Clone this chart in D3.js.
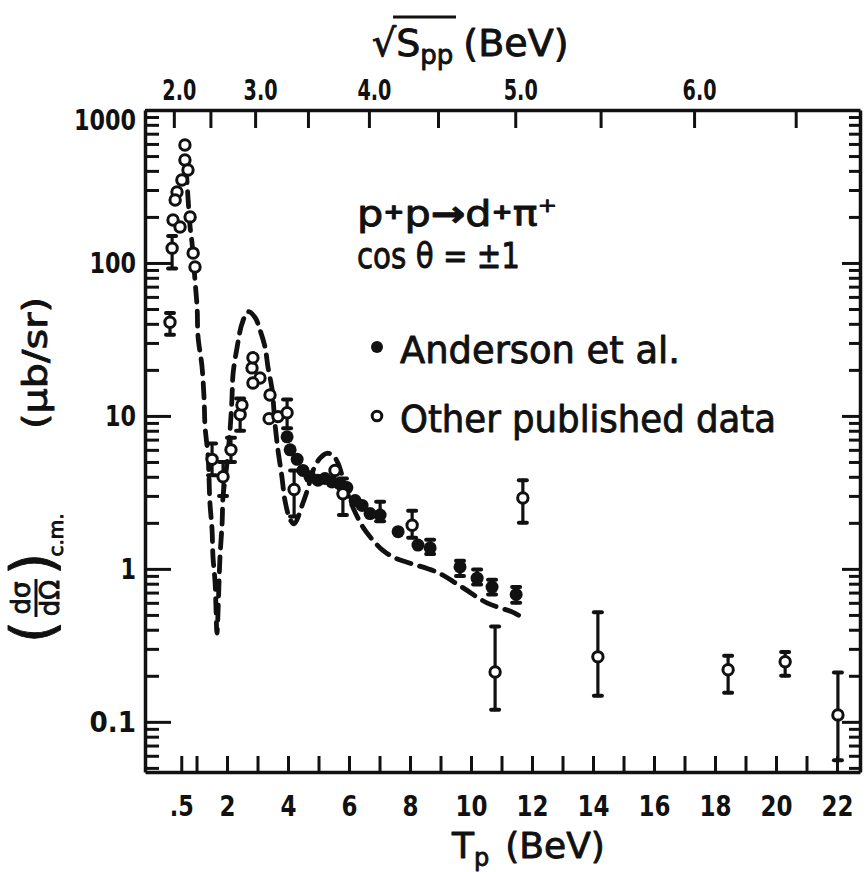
<!DOCTYPE html>
<html>
<head>
<meta charset="utf-8">
<script src="https://cdn.jsdelivr.net/npm/d3@7"></script>
<style>
  body { margin: 0; background: #fff; }
  svg { display: block; }
</style>
</head>
<body>
<svg id="chart" width="868" height="872"></svg>
<script>
// ---------------- data ----------------
// Anderson et al. (filled points): beam kinetic energy T_p (BeV) and dσ/dΩ (μb/sr)
const andersonT = [3.97, 4.07, 4.30, 4.49, 4.72, 4.98, 5.21, 5.44, 5.70, 5.93, 6.20, 6.43, 6.69, 7.02, 7.61, 8.26, 8.66, 9.64, 10.20, 10.69, 11.48];
const andersonV = [7.3, 6.0, 5.2, 4.4, 4.0, 3.8, 3.9, 3.7, 3.6, 3.4, 2.8, 2.6, 2.3, 2.25, 1.75, 1.43, 1.37, 1.03, 0.87, 0.76, 0.68];
const andersonLo = [null, null, null, null, null, null, null, null, null, null, null, null, null, 2.05, null, null, 1.25, 0.90, 0.79, 0.68, 0.60];
const andersonHi = [null, null, null, null, null, null, null, null, null, null, null, null, null, 2.75, null, null, 1.55, 1.13, 0.99, 0.85, 0.76];

// Other published data (open points)
const otherT = [0.62, 0.62, 0.72, 0.52, 0.36, 0.30, 0.79, 0.23, 0.46, 0.20, 0.89, 0.95, 0.13,
                1.51, 1.87, 2.13, 2.43, 2.49, 2.82, 2.85, 3.08, 2.85, 3.41, 3.38, 3.67, 3.97, 4.20,
                5.54, 5.80, 8.07, 10.79, 11.70, 14.16, 18.43, 20.30, 22.03];
const otherV = [590, 471, 405, 349, 291, 258, 200, 191, 172, 125, 116, 94, 41,
                5.2, 4.0, 6.0, 10.2, 11.8, 20.6, 24, 17.7, 16.4, 13.7, 9.6, 9.9, 10.5, 3.3,
                4.4, 3.1, 1.93, 0.212, 2.91, 0.266, 0.219, 0.247, 0.111];
const otherLo = [null, null, null, null, null, null, null, null, null, 92, null, null, 34,
                 4.1, 3.0, 5.0, 8.0, null, null, null, null, null, null, null, null, 8.3, 2.2,
                 null, 2.25, 1.6, 0.12, 2.0, 0.148, 0.155, 0.20, 0.056];
const otherHi = [null, null, null, null, null, null, null, null, null, 150, null, null, 47,
                 6.6, 5.0, 7.2, 13.0, null, null, null, null, null, null, null, null, 12.8, 4.4,
                 null, 3.9, 2.4, 0.42, 3.8, 0.52, 0.27, 0.286, 0.21];

// Model calculation (dashed curve)
const theoryT = [0.66, 0.79, 0.85, 0.95, 1.02, 1.05, 1.18, 1.25, 1.28, 1.38, 1.44, 1.51, 1.54, 1.61, 1.64, 1.67,
                 1.77, 1.84, 1.87, 2.00, 2.10, 2.16, 2.20, 2.33, 2.49, 2.69, 2.92, 3.08, 3.25, 3.34, 3.48,
                 3.57, 3.67, 3.80, 3.90, 4.07, 4.20, 4.49, 4.66, 4.82, 5.05, 5.28, 5.48, 5.64, 5.87, 6.10,
                 6.46, 6.69, 7.11, 7.51, 8.00, 8.89, 9.70, 10.52, 11.38, 11.61];
const theoryV = [420, 172, 137, 77, 51, 33, 21, 12.7, 8.5, 5.4, 2.7, 1.8, 1.2, 0.81, 0.54, 0.38,
                 1.2, 2.0, 2.96, 4.9, 8.1, 12.7, 19, 28, 40, 48, 44, 36.5, 28, 21, 14.8,
                 9.0, 6.0, 4.0, 2.8, 2.1, 1.97, 2.7, 3.4, 4.4, 5.3, 5.7, 5.5, 4.9, 3.5, 2.6,
                 1.87, 1.62, 1.32, 1.18, 1.09, 0.95, 0.76, 0.60, 0.52, 0.49];

// Axis ticks and labels
const xTickValues = [0.5, 1, 2, 3, 4, 5, 6, 7, 8, 9, 10, 11, 12, 13, 14, 15, 16, 17, 18, 19, 20, 21, 22];
const xLabelValues = [0.5, 2, 4, 6, 8, 10, 12, 14, 16, 18, 20, 22];
const xLabels = [".5", "2", "4", "6", "8", "10", "12", "14", "16", "18", "20", "22"];
const sqrtSTicks = [2.0, 2.5, 3.0, 3.5, 4.0, 4.5, 5.0, 5.5, 6.0, 6.5];
const sqrtSLabelValues = [2.0, 3.0, 4.0, 5.0, 6.0];
const sqrtSLabels = ["2.0", "3.0", "4.0", "5.0", "6.0"];
const yLabelValues = [1000, 100, 10, 1, 0.1];
const yLabels = ["1000", "100", "10", "1", "0.1"];

// ---------------- layout ----------------
const INK = "#111";
const FONT = "'DejaVu Sans', 'Liberation Sans', sans-serif";
const L = 145, R = 860, TOP = 110, B = 772;
const MP = 0.938; // proton mass (BeV)

const svg = d3.select("#chart");
svg.append("rect").attr("width", 868).attr("height", 872).attr("fill", "#fff");

const x = d3.scaleLinear().domain([-0.689, 22.754]).range([L, R]);
const y = d3.scaleLog().domain([0.047, 1000]).range([B, TOP]);

// c.m. energy -> beam kinetic energy for p p collisions
const sqrtSToT = r => r * r / (2 * MP) - 2 * MP;

// log tick positions (1..9 per decade)
const logTicks = [];
for (let e = -2; e <= 3; e++) {
  for (let k = 1; k < 10; k++) {
    const v = +(k * Math.pow(10, e)).toPrecision(3);
    if (v >= 0.047 && v <= 1000) logTicks.push(v);
  }
}
const isDecade = v => Math.abs(Math.log10(v) - Math.round(Math.log10(v))) < 1e-9;

function styleAxis(g) {
  g.attr("font-family", FONT).attr("font-size", null);
  g.select(".domain").attr("stroke", INK).attr("stroke-width", 3.5);
  g.selectAll(".tick line").attr("stroke", INK).attr("stroke-width", 3);
  g.selectAll(".tick text").attr("fill", INK);
}

// bottom axis
const xLabelMap = new Map(xLabelValues.map((v, i) => [v, xLabels[i]]));
const gB = svg.append("g").attr("transform", `translate(0,${B})`)
  .call(d3.axisBottom(x).tickValues(xTickValues).tickSizeInner(-16).tickSizeOuter(0)
    .tickPadding(24).tickFormat(d => xLabelMap.get(d) || ""));
styleAxis(gB);
gB.selectAll(".tick text").attr("font-size", 28).attr("font-weight", "bold")
  .each(function(d) {
    const s = xLabelMap.get(d) || "";
    if (s.length) d3.select(this).attr("textLength", s.length === 1 ? 16 : (s === ".5" ? 24 : 32))
      .attr("lengthAdjust", "spacingAndGlyphs");
  });

// top axis (√s)
const sLabelMap = new Map(sqrtSLabelValues.map((v, i) => [v, sqrtSLabels[i]]));
const gT = svg.append("g").attr("transform", `translate(0,${TOP})`)
  .call(d3.axisTop(x).tickValues(sqrtSTicks.map(sqrtSToT)).tickSizeInner(-18).tickSizeOuter(0)
    .tickPadding(10).tickFormat((d, i) => sLabelMap.get(sqrtSTicks[i]) || ""));
styleAxis(gT);
gT.selectAll(".tick text").attr("font-size", 28).attr("font-weight", "bold").attr("dx", 5)
  .attr("textLength", (d, i) => sLabelMap.get(sqrtSTicks[i]) ? 34 : null)
  .attr("lengthAdjust", "spacingAndGlyphs");

// left axis
const yLabelMap = new Map(yLabelValues.map((v, i) => [v, yLabels[i]]));
const gL = svg.append("g").attr("transform", `translate(${L},0)`)
  .call(d3.axisLeft(y).tickValues(logTicks).tickSizeInner(-14).tickSizeOuter(0)
    .tickPadding(9).tickFormat(d => yLabelMap.get(d) || ""));
styleAxis(gL);
gL.selectAll(".tick line").attr("x2", d => isDecade(d) ? 26 : 14);
gL.selectAll(".tick text").attr("font-size", 28).attr("font-weight", "bold")
  .attr("dy", d => d === 1000 ? "0.7em" : "0.35em")
  .each(function(d) {
    const s = yLabelMap.get(d) || "";
    if (s.length) d3.select(this).attr("textLength", s.length * 15.5).attr("lengthAdjust", "spacingAndGlyphs");
  });

// right axis
const gR = svg.append("g").attr("transform", `translate(${R},0)`)
  .call(d3.axisRight(y).tickValues(logTicks).tickSizeInner(-11).tickSizeOuter(0).tickFormat(""));
styleAxis(gR);
gR.selectAll(".tick line").attr("x2", d => isDecade(d) ? -18 : -11);

// ---------------- marks ----------------
const plot = svg.append("g");

// dashed model curve
const line = d3.line().x((d, i) => x(theoryT[i])).y((d, i) => y(theoryV[i])).curve(d3.curveCatmullRom.alpha(0.5));
plot.append("path").datum(theoryV).attr("d", line)
  .attr("fill", "none").attr("stroke", INK).attr("stroke-width", 4.8)
  .attr("stroke-dasharray", "15,9").attr("stroke-linecap", "round");

function errorBars(T, lo, hi) {
  const idx = T.map((t, i) => i).filter(i => lo[i] != null);
  const g = plot.append("g").attr("stroke", INK).attr("stroke-width", 3.2).attr("stroke-linecap", "round");
  g.selectAll("line.bar").data(idx).join("line").attr("class", "bar")
    .attr("x1", i => x(T[i])).attr("x2", i => x(T[i]))
    .attr("y1", i => y(lo[i])).attr("y2", i => y(hi[i]));
  g.selectAll("line.capLo").data(idx).join("line").attr("class", "capLo")
    .attr("x1", i => x(T[i]) - 4).attr("x2", i => x(T[i]) + 4)
    .attr("y1", i => y(lo[i])).attr("y2", i => y(lo[i])).attr("stroke-width", 4);
  g.selectAll("line.capHi").data(idx).join("line").attr("class", "capHi")
    .attr("x1", i => x(T[i]) - 4).attr("x2", i => x(T[i]) + 4)
    .attr("y1", i => y(hi[i])).attr("y2", i => y(hi[i])).attr("stroke-width", 4);
}
errorBars(otherT, otherLo, otherHi);
errorBars(andersonT, andersonLo, andersonHi);

// Anderson et al. filled points
plot.append("g").selectAll("circle").data(andersonV).join("circle")
  .attr("cx", (d, i) => x(andersonT[i])).attr("cy", d => y(d)).attr("r", 6.5).attr("fill", INK);

// other published data, open points
plot.append("g").selectAll("circle").data(otherV).join("circle")
  .attr("cx", (d, i) => x(otherT[i])).attr("cy", d => y(d)).attr("r", 5.2)
  .attr("fill", "#fff").attr("stroke", INK).attr("stroke-width", 3);

// ---------------- text ----------------
const txt = svg.append("g").attr("font-family", FONT).attr("fill", INK)
  .attr("stroke", INK).attr("stroke-width", 0.9).attr("stroke-linejoin", "round");

// reaction and angle
const r1 = txt.append("text").attr("x", 357).attr("y", 226).attr("font-size", 36)
  .attr("textLength", 200).attr("lengthAdjust", "spacingAndGlyphs");
r1.append("tspan").text("p");
r1.append("tspan").attr("font-size", 22).attr("font-weight", "bold").attr("dy", -7).text("+");
r1.append("tspan").attr("dy", 7).text("p");
r1.append("tspan").attr("font-weight", "bold").text("→");
r1.append("tspan").text("d");
r1.append("tspan").attr("font-size", 22).attr("font-weight", "bold").attr("dy", -7).text("+");
r1.append("tspan").attr("dy", 7).text("π");
r1.append("tspan").attr("font-size", 20).attr("dy", -14).text("+");

txt.append("text").attr("x", 357).attr("y", 268).attr("font-size", 36)
  .attr("textLength", 163).attr("lengthAdjust", "spacingAndGlyphs").text("cos θ = ±1");

// legend
svg.append("circle").attr("cx", 377).attr("cy", 347).attr("r", 6).attr("fill", INK);
txt.append("text").attr("x", 400).attr("y", 363).attr("font-size", 38)
  .attr("textLength", 280).attr("lengthAdjust", "spacingAndGlyphs").text("Anderson et al.");
svg.append("circle").attr("cx", 377).attr("cy", 416).attr("r", 4.8)
  .attr("fill", "#fff").attr("stroke", INK).attr("stroke-width", 3);
txt.append("text").attr("x", 400).attr("y", 432).attr("font-size", 38)
  .attr("textLength", 376).attr("lengthAdjust", "spacingAndGlyphs").text("Other published data");

// top title: √s_pp (BeV)
const tt = txt.append("text").attr("x", 372).attr("y", 56).attr("font-size", 38);
tt.append("tspan").text("√");
tt.append("tspan").text("S");
tt.append("tspan").attr("font-size", 26).attr("dy", 8).text("pp");
tt.append("tspan").attr("dx", 10).attr("dy", -8).text("(BeV)");
svg.append("line").attr("x1", 393).attr("x2", 456).attr("y1", 17).attr("y2", 17)
  .attr("stroke", INK).attr("stroke-width", 3);

// bottom title: T_p (BeV)
const bt = txt.append("text").attr("x", 452).attr("y", 858).attr("font-size", 36);
bt.append("tspan").text("T");
bt.append("tspan").attr("font-size", 24).attr("dy", 8).text("p");
bt.append("tspan").attr("dx", 16).attr("dy", -8).text("(BeV)");

// left title: (dσ/dΩ)_c.m. (μb/sr), rotated
const yl = txt.append("g").attr("transform", "translate(35,465) rotate(-90)");
yl.append("text").attr("x", -167).attr("y", 18).attr("font-size", 58).attr("text-anchor", "middle").text("(");
yl.append("text").attr("x", -133).attr("y", -5).attr("font-size", 26).attr("text-anchor", "middle").text("dσ");
yl.append("line").attr("x1", -152).attr("x2", -114).attr("y1", 1).attr("y2", 1).attr("stroke", INK).attr("stroke-width", 3);
yl.append("text").attr("x", -133).attr("y", 24).attr("font-size", 26).attr("text-anchor", "middle").text("dΩ");
yl.append("text").attr("x", -99).attr("y", 18).attr("font-size", 58).attr("text-anchor", "middle").text(")");
yl.append("text").attr("x", -70).attr("y", 28).attr("font-size", 20).attr("text-anchor", "middle").text("c.m.");
yl.append("text").attr("x", 102).attr("y", 12).attr("font-size", 34).attr("text-anchor", "middle")
  .attr("textLength", 132).attr("lengthAdjust", "spacingAndGlyphs").text("(μb/sr)");
</script>
</body>
</html>
